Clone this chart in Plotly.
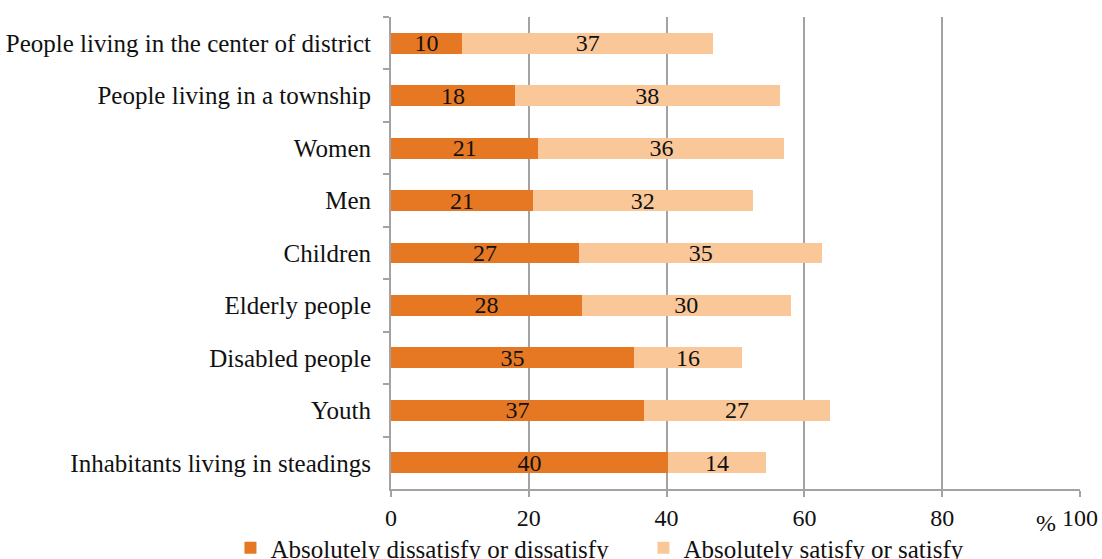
import plotly.graph_objects as go

categories = [
    "People living in the center of district",
    "People living in a township",
    "Women",
    "Men",
    "Children",
    "Elderly people",
    "Disabled people",
    "Youth",
    "Inhabitants living in steadings",
]
dissatisfied = [10.3, 18.0, 21.4, 20.6, 27.3, 27.7, 35.3, 36.7, 40.2]
satisfied = [36.5, 38.4, 35.7, 31.9, 35.3, 30.3, 15.6, 27.0, 14.2]
dissatisfied_labels = ["10", "18", "21", "21", "27", "28", "35", "37", "40"]
satisfied_labels = ["37", "38", "36", "32", "35", "30", "16", "27", "14"]
x_ticks = [0, 20, 40, 60, 80, 100]

FONT = "Liberation Serif, Times New Roman, serif"
GRID = "#A3A3A3"
FS = 24
FS_CAT = 25

fig = go.Figure()
fig.add_trace(go.Bar(
    y=categories, x=dissatisfied, orientation="h",
    name="Absolutely dissatisfy or dissatisfy",
    marker=dict(color="#E67823", line=dict(width=0)),
    text=dissatisfied_labels, textposition="inside", insidetextanchor="middle",
    textangle=0,
    textfont=dict(family=FONT, size=FS, color="#111111"),
    constraintext="none", width=0.40,
))
fig.add_trace(go.Bar(
    y=categories, x=satisfied, orientation="h",
    name="Absolutely satisfy or satisfy",
    marker=dict(color="#FAC799", line=dict(width=0)),
    text=satisfied_labels, textposition="inside", insidetextanchor="middle",
    textangle=0,
    textfont=dict(family=FONT, size=FS, color="#111111"),
    constraintext="none", width=0.40,
))

fig.update_layout(
    barmode="stack",
    width=1102, height=559,
    margin=dict(l=391, r=22, t=17, b=70, autoexpand=False),
    paper_bgcolor="white", plot_bgcolor="white",
    font=dict(family=FONT, size=FS, color="#111111"),
    showlegend=True,
    legend=dict(
        orientation="h", x=-0.233, xanchor="left", y=-0.125, yanchor="middle",
        font=dict(family=FONT, size=FS_CAT, color="#111111"),
        itemwidth=30, tracegroupgap=0, traceorder="normal",
        entrywidth=368, entrywidthmode="pixels",
        bgcolor="rgba(0,0,0,0)",
    ),
    xaxis=dict(
        range=[0, 100], tickvals=x_ticks, ticktext=[str(t) for t in x_ticks],
        showgrid=True, gridcolor=GRID, gridwidth=2,
        showline=True, linecolor=GRID, linewidth=2,
        ticks="outside", ticklen=6, tickcolor=GRID, tickwidth=2,
        ticklabelstandoff=0, zeroline=False,
        tickfont=dict(family=FONT, size=FS, color="#111111"),
        fixedrange=True,
    ),
    yaxis=dict(
        autorange="reversed", type="category",
        showline=True, linecolor=GRID, linewidth=2,
        ticks="outside", ticklen=6, tickcolor=GRID, tickwidth=2,
        tickson="boundaries", ticklabelstandoff=13,
        showgrid=False,
        tickfont=dict(family=FONT, size=FS_CAT, color="#111111"),
        fixedrange=True,
    ),
    annotations=[dict(
        text="%", x=95, xref="x", y=0, yref="paper",
        showarrow=False, font=dict(family=FONT, size=FS, color="#111111"),
        xanchor="center", yanchor="middle", yshift=-34,
    )],
)

fig.write_html("out.html")
